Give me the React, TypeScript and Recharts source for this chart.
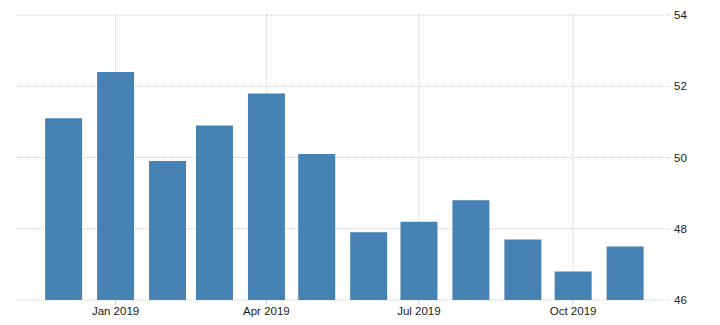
import { BarChart, Bar, XAxis, YAxis, CartesianGrid } from "recharts";

const months = [
  "2018-12-01", "2019-01-01", "2019-02-01", "2019-03-01", "2019-04-01", "2019-05-01",
  "2019-06-01", "2019-07-01", "2019-08-01", "2019-09-01", "2019-10-01", "2019-11-01",
];
const values = [51.1, 52.4, 49.9, 50.9, 51.8, 50.1, 47.9, 48.2, 48.8, 47.7, 46.8, 47.5];
const xTicks = ["2019-01-01", "2019-04-01", "2019-07-01", "2019-10-01"];
const yTicks = [46, 48, 50, 52, 54];
const monthNames = ["Jan", "Feb", "Mar", "Apr", "May", "Jun", "Jul", "Aug", "Sep", "Oct", "Nov", "Dec"];

const DAY = 86400000;
const toTime = (s: string) => new Date(s + "T00:00:00Z").getTime();
const start = toTime("2019-01-01");
const domain = [start - 58.8 * DAY, start + 331.4 * DAY];

const data = months.map((m, i) => ({ t: toTime(m), value: values[i] }));

const fmt = (t: number) => {
  const d = new Date(t);
  return `${monthNames[d.getUTCMonth()]} ${d.getUTCFullYear()}`;
};

const tickStyle = { fontFamily: "Liberation Sans, Arial, sans-serif", fontSize: 11.5, fill: "#1a1a1a" };

export default function App() {
  return (
    <div style={{ position: "absolute", left: 0, top: 0 }}>
      <BarChart
        width={720}
        height={325}
        data={data}
        margin={{ top: 15, right: 0, left: 17, bottom: 0 }}
      >
        {/* syncWithTicks: no extra lines at the plot edges */}
        <CartesianGrid stroke="#ccc" strokeDasharray="1 1" syncWithTicks />
        <XAxis
          dataKey="t"
          type="number"
          scale="linear"
          domain={domain}
          ticks={xTicks.map(toTime)}
          tickFormatter={fmt}
          height={25}
          axisLine={false}
          tickSize={4}
          tickMargin={3}
          tickLine={{ stroke: "#ccc" }}
          tick={tickStyle}
        />
        <YAxis
          orientation="right"
          domain={[46, 54]}
          ticks={yTicks}
          width={49}
          axisLine={false}
          tickLine={false}
          tickSize={0}
          tickMargin={3}
          tick={{ ...tickStyle, textAnchor: "start" }}
        />
        <Bar dataKey="value" fill="#4682B4" barSize={37} isAnimationActive={false} />
      </BarChart>
    </div>
  );
}
